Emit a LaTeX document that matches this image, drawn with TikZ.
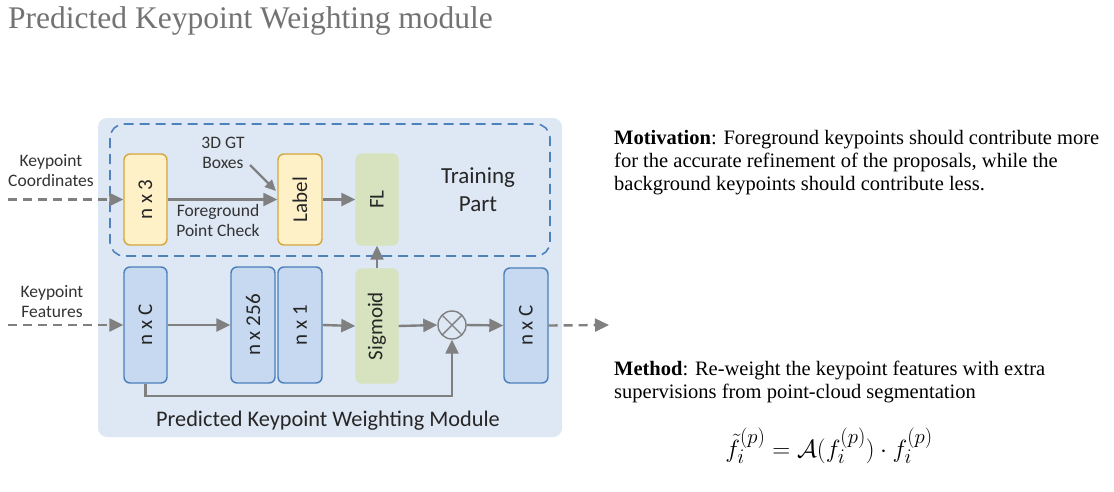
\documentclass[tikz,border=0pt]{standalone}
\usepackage{graphicx}
\usepackage{fontspec}
\setmainfont{Liberation Serif}
\newfontfamily\diag{Carlito}
\usetikzlibrary{arrows.meta}
\definecolor{bgblue}{HTML}{DEE8F4}
\definecolor{dashblue}{HTML}{4F81BD}
\definecolor{boxblue}{HTML}{C6D9F0}
\definecolor{edgeblue}{HTML}{4A7EBB}
\definecolor{boxyel}{HTML}{FEF0C7}
\definecolor{edgeyel}{HTML}{D6A63C}
\definecolor{boxgreen}{HTML}{D6E3BE}
\definecolor{arrgray}{HTML}{808080}
\definecolor{titlegray}{HTML}{737373}
\newcommand{\vtxt}[1]{\rotatebox{90}{#1}}
\begin{document}
\begin{tikzpicture}[x=1pt,y=-1pt,
  blk/.style={rounded corners=6pt, line width=1.4pt, inner sep=0pt,
    font=\diag\fontsize{21}{23}\selectfont, text=black!85},
  blueblk/.style={blk, fill=boxblue, draw=edgeblue},
  yelblk/.style={blk, fill=boxyel, draw=edgeyel},
  greenblk/.style={blk, fill=boxgreen, draw=boxgreen},
  arr/.style={draw=arrgray, line width=2.4pt, -{Triangle[length=14pt,width=13pt]}},
  darr/.style={arr, dash pattern=on 9pt off 6pt},
  small/.style={font=\diag\fontsize{17.5}{20}\selectfont, text=black!80, align=center},
  mid/.style={font=\diag\fontsize{23}{28}\selectfont, text=black!85, align=center},
  rtext/.style={font=\fontsize{20.5}{23}\selectfont, anchor=north west, align=left, inner sep=0pt}
]
\useasboundingbox (0,0) rectangle (1114,491);
\fill[white] (0,0) rectangle (1114,491);

% title
\node[anchor=west, inner sep=0pt, text=titlegray, font=\fontsize{31.5}{33}\selectfont] (title) at (8,21) {Predicted Keypoint Weighting module};

% module background
\fill[bgblue, rounded corners=9pt] (98,118) rectangle (562,437);
\draw[dashblue, line width=1.6pt, dash pattern=on 10pt off 6pt, rounded corners=14pt] (110,124) rectangle (550,256);

% blocks
\node[yelblk, minimum height=91pt, minimum width=43pt] (n3) at (145.5,199.5) {\vtxt{n x 3}};
\node[yelblk, minimum height=91pt, minimum width=44pt] (lab) at (300,199.5) {\vtxt{Label}};
\node[greenblk, minimum height=91pt, minimum width=42pt] (fl) at (377,199.5) {\vtxt{FL}};
\node[blueblk, minimum height=116pt, minimum width=43pt] (nc) at (145.5,325) {\vtxt{n x C}};
\node[blueblk, minimum height=116pt, minimum width=44pt] (n256) at (253,325) {\vtxt{n x 256}};
\node[blueblk, minimum height=116pt, minimum width=44pt] (n1) at (300,325) {\vtxt{n x 1}};
\node[greenblk, minimum height=114pt, minimum width=42pt] (sig) at (377,326) {\vtxt{Sigmoid}};
\node[blueblk, minimum height=115pt, minimum width=44pt] (nco) at (526,325.5) {\vtxt{n x C}};
\node[circle, draw=arrgray, line width=1.4pt, minimum size=28pt, inner sep=0pt] (ot) at (452,325) {};
\draw[arrgray, line width=1.4pt] ([shift={(-9.9pt,9.9pt)}]ot.center) -- ([shift={(9.9pt,-9.9pt)}]ot.center)
  ([shift={(-9.9pt,-9.9pt)}]ot.center) -- ([shift={(9.9pt,9.9pt)}]ot.center);

% labels
\node[small] (kc) at (51,171) {Keypoint\\Coordinates};
\node[small] (kf) at (52,302) {Keypoint\\Features};
\node[small] (gt) at (223,153) {3D GT\\Boxes};
\node[small] (fpc) at (218,220) {Foreground\\Point Check};
\node[mid] (tp) at (478,190) {Training\\Part};
\node[mid, font=\diag\fontsize{22.3}{28}\selectfont] (pkw) at (328,421) {Predicted Keypoint Weighting Module};

% free ends
\coordinate (in1) at (8,199.5);
\coordinate (in2) at (8,325);
\coordinate (out) at (609,325);
\coordinate (gts) at (250,165);
\coordinate (gte) at (276,191);
\coordinate (bl) at (145.5,396);

% connectors
\draw[darr] (in1) -- (n3.west);
\draw[darr] (in2) -- (nc.west);
\draw[arr] (n3.east) -- (lab.west);
\draw[arr] (lab.east) -- (fl.west);
\draw[arr, -{Triangle[length=11pt,width=10pt]}] (gts) -- (gte);
\draw[arr] (nc.east) -- (n256.west);
\draw[arr] (n1.east) -- (sig.west);
\draw[arr] (sig.east) -- (ot.west);
\draw[arr] (ot.east) -- (nco.west);
\draw[arr] (sig.north) -- (fl.south);
\draw[arr] (nc.south) -- (bl) -| (ot.south);
\draw[darr] (nco.east) -- (out);

% right text
\node[rtext] (mot) at (614,130) {\textbf{Motivation}: Foreground keypoints should contribute more\\for the accurate refinement of the proposals, while the\\background keypoints should contribute less.};
\node[rtext] (meth) at (614,361) {\textbf{Method}: Re-weight the keypoint features with extra\\supervisions from point-cloud segmentation};
\node[font=\fontsize{30}{32}\selectfont, inner sep=0pt] (eq) at (829,446) {$\tilde{f}_i^{(p)} = \mathcal{A}(f_i^{(p)})\cdot f_i^{(p)}$};
\end{tikzpicture}
\end{document}
